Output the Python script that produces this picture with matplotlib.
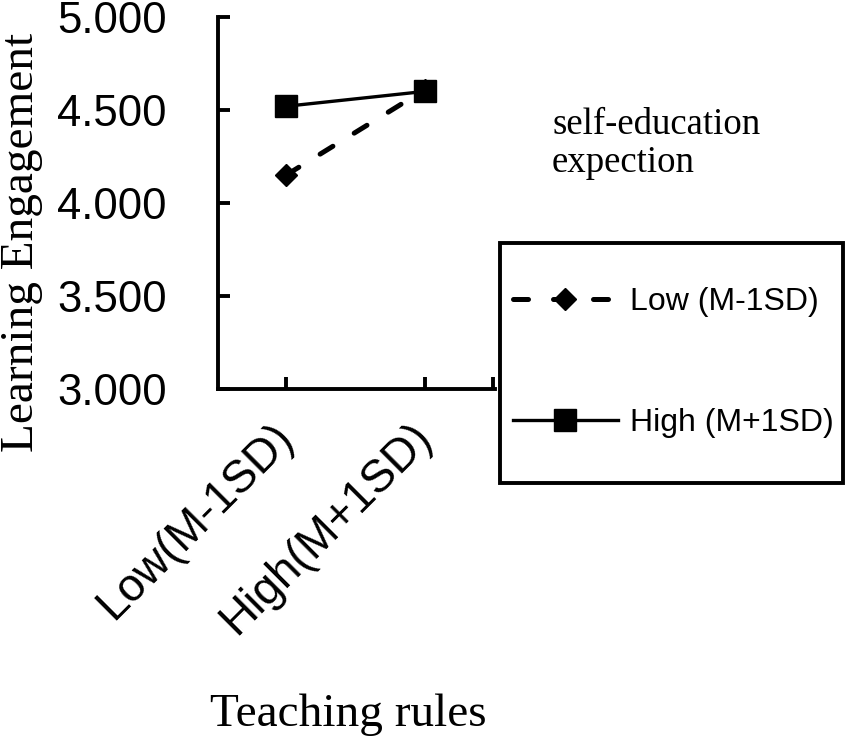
import matplotlib
matplotlib.use("Agg")
import matplotlib.pyplot as plt
from matplotlib.patches import Rectangle

# data
categories = ["Low(M-1SD)", "High(M+1SD)"]
low_sd = [4.15, 4.61]
high_sd = [4.52, 4.60]
series_labels = ["Low (M-1SD)", "High (M+1SD)"]
y_ticks = [3.0, 3.5, 4.0, 4.5, 5.0]

fig = plt.figure(figsize=(8.46, 7.42), dpi=100)
W, H = 846, 742
ax = fig.add_axes([218 / W, 1 - 389 / H, (495 - 218) / W, (389 - 17) / H])

x = list(range(len(categories)))
ax.plot(x, low_sd, color="black", lw=3.6, ls=(0, (3, 5)), dash_capstyle="round",
        marker="D", ms=11, label=series_labels[0])
ax.plot(x, high_sd, color="black", lw=2.4, marker="s", ms=16, label=series_labels[1])

ax.set_xlim(-0.49, 1.504)
ax.set_ylim(3.0, 5.0)
ax.set_yticks(y_ticks)
ax.set_yticklabels([f"{v:.3f}" for v in y_ticks], fontfamily="Liberation Sans", fontsize=31.5)
ax.set_xticks([0, 1, 1.49])
ax.set_xticklabels(categories + [""], fontfamily="Liberation Sans", fontsize=33,
                   rotation=45, ha="right", va="center", rotation_mode="anchor")

for s in ["top", "right"]:
    ax.spines[s].set_visible(False)
for s in ["left", "bottom"]:
    ax.spines[s].set_linewidth(2.8)
ax.tick_params(axis="y", direction="in", length=8.5, width=2.8, pad=37)
ax.tick_params(axis="x", direction="in", length=8.5, width=2.8, pad=30)

fig.text(22 / W, 1 - 242 / H, "Learning Engagement", rotation=90, ha="center", va="center",
         fontfamily="Liberation Serif", fontsize=34)
fig.text(348 / W, 1 - 715 / H, "Teaching rules", ha="center", va="center",
         fontfamily="Liberation Serif", fontsize=34)
fig.text(552 / W, 1 - 108 / H, "self-education\nexpection", ha="left", va="top",
         fontfamily="Liberation Serif", fontsize=26.5, linespacing=1.1)

fig.patches.append(Rectangle((500 / W, 1 - 483 / H), 343 / W, 240 / H, transform=fig.transFigure,
                             fill=False, edgecolor="black", lw=2.8))
ax.legend(loc="center left", bbox_to_anchor=(513 / W, 1 - 362.5 / H), bbox_transform=fig.transFigure,
          frameon=False, borderpad=0, borderaxespad=0, handlelength=3.28, handletextpad=0.375,
          labelspacing=2.85, prop={"family": "Liberation Sans", "size": 23})

fig.savefig("out.png", dpi=100)
